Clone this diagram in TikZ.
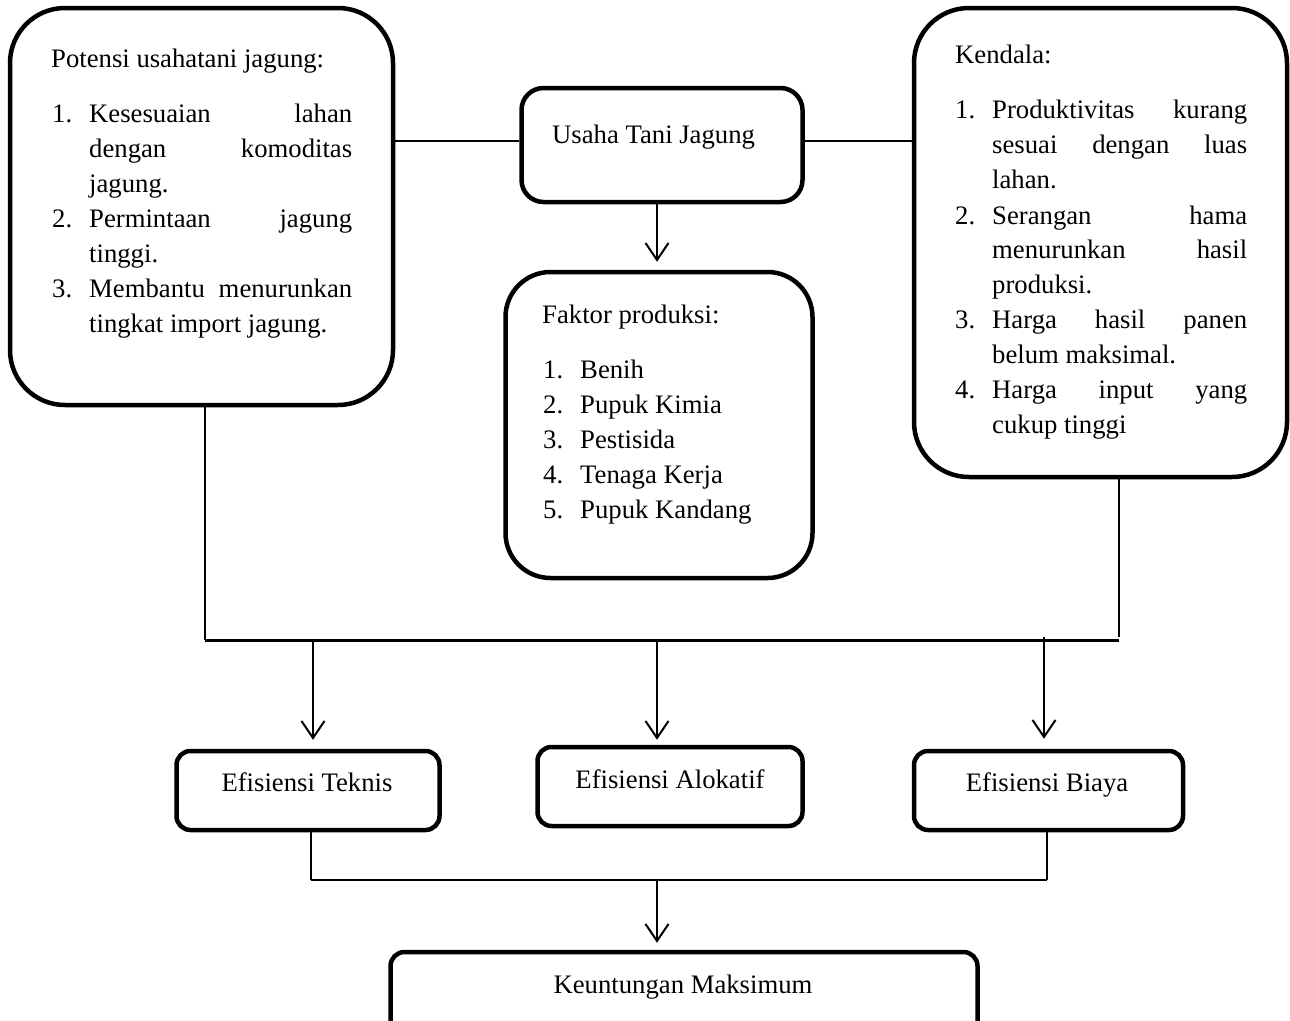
\documentclass[tikz,border=0pt]{standalone}
\usepackage{fontspec}
\setmainfont{Liberation Serif}
\usetikzlibrary{arrows.meta}
\tikzset{
  box/.style={draw, line width=4.5pt, inner sep=0pt, fill=white},
  txt/.style={inner sep=0pt, anchor=base west, font=\fontsize{26.7}{30}\selectfont},
  ctxt/.style={inner sep=0pt, anchor=base, font=\fontsize{26.7}{30}\selectfont},
  conn/.style={line width=2pt},
  arr/.style={line width=2pt, -{Straight Barb[length=17pt,width=23pt,line width=2pt]}},
}
\newcommand\jst[2]{\makebox[#1pt][s]{#2}}
\begin{document}
\begin{tikzpicture}[x=1pt,y=-1pt]
\useasboundingbox (0,0) rectangle (1290,1020);
% boxes
\node[box, rounded corners=55pt, minimum width=383pt, minimum height=397pt] (pot) at (201.5,206.5) {};
\node[box, rounded corners=22pt, minimum width=281pt, minimum height=114pt] (usaha) at (662,145) {};
\node[box, rounded corners=55pt, minimum width=373pt, minimum height=469pt] (kend) at (1100.5,242.5) {};
\node[box, rounded corners=45pt, minimum width=307pt, minimum height=306pt] (fak) at (659,425) {};
\node[box, rounded corners=14pt, minimum width=263pt, minimum height=79pt] (tek) at (308,790.5) {};
\node[box, rounded corners=14pt, minimum width=265pt, minimum height=79pt] (alo) at (670,786.5) {};
\node[box, rounded corners=14pt, minimum width=269pt, minimum height=79pt] (bia) at (1048.5,790.5) {};
\node[box, rounded corners=14pt, minimum width=587pt, minimum height=96pt] (keu) at (684,1000) {};

% left box text
\node[txt] (pt0) at (51,67) {Potensi usahatani jagung:};
\node[txt] (pn1) at (52,122) {1.};
\node[txt] (pt1) at (89,122) {\jst{263}{Kesesuaian lahan}};
\node[txt] (pt2) at (89,157) {\jst{263}{dengan komoditas}};
\node[txt] (pt3) at (89,192) {jagung.};
\node[txt] (pn2) at (52,227) {2.};
\node[txt] (pt4) at (89,227) {\jst{263}{Permintaan jagung}};
\node[txt] (pt5) at (89,262) {tinggi.};
\node[txt] (pn3) at (52,297) {3.};
\node[txt] (pt6) at (89,297) {\jst{263}{Membantu menurunkan}};
\node[txt] (pt7) at (89,332) {tingkat import jagung.};

% usaha text
\node[txt] (ut) at (552,143) {Usaha Tani Jagung};

% right box text
\node[txt] (kt0) at (955,63) {Kendala:};
\node[txt] (kn1) at (955,118) {1.};
\node[txt] (kt1) at (992,118) {\jst{255}{Produktivitas kurang}};
\node[txt] (kt2) at (992,153) {\jst{255}{sesuai dengan luas}};
\node[txt] (kt3) at (992,188) {lahan.};
\node[txt] (kn2) at (955,224) {2.};
\node[txt] (kt4) at (992,224) {\jst{255}{Serangan hama}};
\node[txt] (kt5) at (992,258) {\jst{255}{menurunkan hasil}};
\node[txt] (kt6) at (992,293) {produksi.};
\node[txt] (kn3) at (955,328) {3.};
\node[txt] (kt7) at (992,328) {\jst{255}{Harga hasil panen}};
\node[txt] (kt8) at (992,363) {belum maksimal.};
\node[txt] (kn4) at (955,398) {4.};
\node[txt] (kt9) at (992,398) {\jst{255}{Harga input yang}};
\node[txt] (kt10) at (992,433) {cukup tinggi};

% faktor text
\node[txt] (ft0) at (542,323) {Faktor produksi:};
\node[txt] (fn1) at (543,378) {1.};
\node[txt] (ft1) at (580,378) {Benih};
\node[txt] (fn2) at (543,413) {2.};
\node[txt] (ft2) at (580,413) {Pupuk Kimia};
\node[txt] (fn3) at (543,448) {3.};
\node[txt] (ft3) at (580,448) {Pestisida};
\node[txt] (fn4) at (543,483) {4.};
\node[txt] (ft4) at (580,483) {Tenaga Kerja};
\node[txt] (fn5) at (543,518) {5.};
\node[txt] (ft5) at (580,518) {Pupuk Kandang};

% efisiensi text
\node[ctxt] (tt) at (307,791) {Efisiensi Teknis};
\node[ctxt] (at) at (670,788) {Efisiensi Alokatif};
\node[ctxt] (bt) at (1047,791) {Efisiensi Biaya};
\node[ctxt] (kut) at (683,993) {Keuntungan Maksimum};

% coordinates
\coordinate (ytop) at (0,141);
\coordinate (jl) at (205,640);
\coordinate (jr) at (1119,640);
\coordinate (jrt) at (1119,637);
\coordinate (a1) at (313,640);
\coordinate (a2) at (657,640);
\coordinate (a3) at (1044,637);
\coordinate (b1) at (311,880);
\coordinate (b2) at (1047,880);
\coordinate (b3) at (657,880);

% connectors
\draw[conn] (pot.east |- ytop) -- (usaha.west |- ytop);
\draw[conn] (usaha.east |- ytop) -- (kend.west |- ytop);
\draw[arr, shorten >=8pt] (usaha.south -| a2) -- (fak.north -| a2);
\draw[conn] (pot.south -| jl) -- (jl);
\draw[conn] (kend.south -| jrt) -- (jrt);
\draw[line width=3pt] (jl) -- (jr);
\draw[arr, shorten >=9pt] (a1) -- (tek.north -| a1);
\draw[arr, shorten >=5pt] (a2) -- (alo.north -| a2);
\draw[arr, shorten >=10pt] (a3) -- (bia.north -| a3);
\draw[conn] (tek.south -| b1) -- (b1);
\draw[conn] (bia.south -| b2) -- (b2);
\draw[line width=2.5pt] (b1) -- (b2);
\draw[arr, shorten >=7pt] (b3) -- (keu.north -| b3);
\end{tikzpicture}
\end{document}
